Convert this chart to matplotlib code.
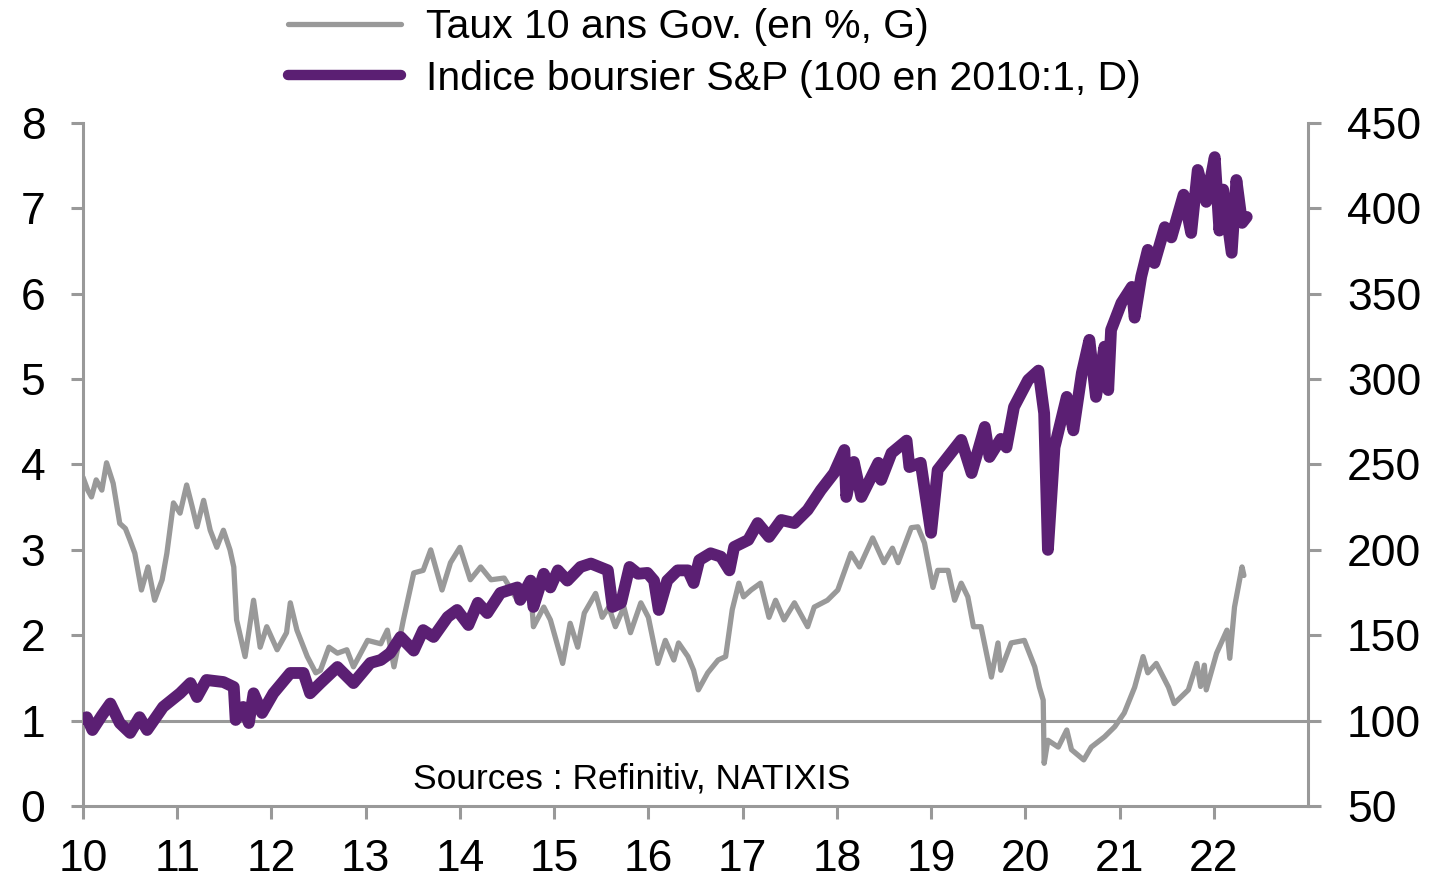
import matplotlib
matplotlib.use("Agg")
import matplotlib.pyplot as plt
from matplotlib.lines import Line2D

plt.rcParams['font.family'] = ['Liberation Sans', 'DejaVu Sans']

# Taux 10 ans Gov. (en %), axe gauche
taux_t = [2010.00, 2010.05, 2010.09, 2010.14, 2010.20, 2010.25, 2010.32, 2010.39, 2010.45, 2010.50,
          2010.55, 2010.62, 2010.69, 2010.76, 2010.84, 2010.89, 2010.96, 2011.03, 2011.10, 2011.16,
          2011.21, 2011.28, 2011.35, 2011.42, 2011.49, 2011.56, 2011.60, 2011.63, 2011.72, 2011.81,
          2011.88, 2011.95, 2012.06, 2012.16, 2012.20, 2012.27, 2012.38, 2012.47, 2012.52, 2012.61,
          2012.70, 2012.80, 2012.87, 2013.02, 2013.16, 2013.23, 2013.30, 2013.40, 2013.51, 2013.61,
          2013.69, 2013.81, 2013.90, 2014.00, 2014.11, 2014.22, 2014.33, 2014.47, 2014.61, 2014.75,
          2014.78, 2014.89, 2014.96, 2015.09, 2015.17, 2015.25, 2015.32, 2015.44, 2015.51, 2015.58,
          2015.65, 2015.74, 2015.81, 2015.92, 2016.00, 2016.10, 2016.18, 2016.27, 2016.32, 2016.42,
          2016.48, 2016.53, 2016.63, 2016.74, 2016.82, 2016.89, 2016.96, 2017.01, 2017.09, 2017.19,
          2017.28, 2017.35, 2017.44, 2017.55, 2017.69, 2017.76, 2017.90, 2018.01, 2018.15, 2018.24,
          2018.38, 2018.50, 2018.59, 2018.65, 2018.79, 2018.86, 2018.93,
          2019.02, 2019.07, 2019.18, 2019.25, 2019.32, 2019.39, 2019.45, 2019.53, 2019.64, 2019.71,
          2019.74, 2019.85, 2019.99, 2020.10, 2020.15, 2020.19, 2020.20, 2020.24, 2020.35, 2020.44,
          2020.49, 2020.62, 2020.70, 2020.84, 2020.95, 2021.05, 2021.16, 2021.25, 2021.30, 2021.39,
          2021.52, 2021.58, 2021.73, 2021.82, 2021.86, 2021.90, 2021.92, 2022.03, 2022.14, 2022.17,
          2022.22, 2022.30, 2022.32]
taux_v = [3.85, 3.70, 3.62, 3.82, 3.70, 4.02, 3.78, 3.31, 3.25, 3.11,
          2.96, 2.53, 2.80, 2.41, 2.65, 2.96, 3.55, 3.43, 3.76, 3.50,
          3.27, 3.58, 3.23, 3.03, 3.23, 3.00, 2.80, 2.18, 1.75, 2.41,
          1.86, 2.10, 1.83, 2.03, 2.38, 2.06, 1.75, 1.56, 1.59, 1.86,
          1.79, 1.83, 1.63, 1.94, 1.90, 2.06, 1.63, 2.18, 2.73, 2.76,
          3.00, 2.53, 2.85, 3.03, 2.65, 2.80, 2.65, 2.67, 2.41, 2.56,
          2.10, 2.33, 2.18, 1.67, 2.14, 1.86, 2.26, 2.49, 2.21, 2.33,
          2.10, 2.33, 2.03, 2.38, 2.21, 1.67, 1.94, 1.71, 1.91, 1.75,
          1.59, 1.36, 1.56, 1.71, 1.75, 2.30, 2.61, 2.45, 2.53, 2.61,
          2.21, 2.41, 2.18, 2.38, 2.10, 2.33, 2.41, 2.53, 2.96, 2.80,
          3.14, 2.85, 3.02, 2.85, 3.26, 3.27, 3.08,
          2.56, 2.76, 2.76, 2.41, 2.61, 2.45, 2.10, 2.10, 1.51, 1.91,
          1.59, 1.91, 1.94, 1.63, 1.39, 1.24, 0.50, 0.77, 0.69, 0.89,
          0.66, 0.54, 0.69, 0.81, 0.93, 1.09, 1.39, 1.75, 1.56, 1.67,
          1.39, 1.20, 1.36, 1.67, 1.40, 1.65, 1.36, 1.79, 2.06, 1.73,
          2.33, 2.80, 2.70]

# Indice boursier S&P (100 en 2010:1), axe droit
spx_t = [2010.00, 2010.04, 2010.10, 2010.20, 2010.29, 2010.39, 2010.50, 2010.60, 2010.68, 2010.85,
         2011.03, 2011.14, 2011.21, 2011.31, 2011.49, 2011.60, 2011.62, 2011.70, 2011.76, 2011.81,
         2011.90, 2012.02, 2012.20, 2012.34, 2012.41, 2012.52, 2012.70, 2012.87, 2013.05, 2013.16,
         2013.26, 2013.37, 2013.51, 2013.61, 2013.72, 2013.87, 2013.97, 2014.09, 2014.19, 2014.29,
         2014.43, 2014.61, 2014.64, 2014.75, 2014.78, 2014.89, 2014.96, 2015.04, 2015.14, 2015.28,
         2015.39, 2015.57, 2015.62, 2015.71, 2015.80, 2015.89, 2015.99, 2016.06, 2016.11, 2016.20,
         2016.31, 2016.42, 2016.48, 2016.54, 2016.66, 2016.77, 2016.86, 2016.91, 2017.06, 2017.16,
         2017.28, 2017.41, 2017.55, 2017.69, 2017.83, 2017.97, 2018.08,
         2018.10, 2018.18, 2018.26, 2018.44, 2018.47, 2018.58, 2018.74, 2018.77, 2018.89, 2019.00,
         2019.07, 2019.32, 2019.43, 2019.57, 2019.62, 2019.74, 2019.80, 2019.88, 2020.03, 2020.14,
         2020.20, 2020.24, 2020.31, 2020.44, 2020.51, 2020.60, 2020.68, 2020.75, 2020.84, 2020.88,
         2020.91, 2021.02, 2021.13, 2021.16, 2021.23, 2021.30, 2021.37, 2021.48, 2021.55, 2021.68,
         2021.76, 2021.83, 2021.92, 2022.01, 2022.06, 2022.10, 2022.19, 2022.24, 2022.30, 2022.35]
spx_v = [101, 102, 94.5, 103, 110, 98.6, 92.8, 102, 94.5, 108,
         116, 122, 113.8, 123.8, 122.6, 119.7, 100.4, 108, 98.6, 116,
         104.5, 116, 127.9, 127.9, 116, 122, 131.4, 122, 133.8, 135.5,
         139.6, 149, 141, 153, 149, 160.7, 164.8, 156, 169, 163,
         174.8, 178, 170.7, 182, 166.6, 186, 178, 188, 182, 190,
         192, 188, 166.6, 169, 190, 186, 186.5, 182, 164.8, 182,
         188, 188, 180.6, 194, 198, 196, 188, 201.7, 205.8, 215.7,
         207.6, 217.5, 215.7, 223.4, 235, 245, 258.5,
         231, 251.5, 231, 251, 241, 256.7, 264, 248.5, 251, 210,
         246.8, 264.4, 245, 272, 254.4, 265, 260, 283.7, 299.5, 305,
         280, 200, 260, 289.6, 270, 303.6, 323, 289.6, 319, 293.6,
         328.8, 344.6, 354, 336, 360, 375.7, 368, 389, 383, 408,
         385.6, 422.5, 403.8, 430, 387, 411, 374, 416.6, 391.5, 395]

years = list(range(2010, 2023))
year_labels = [str(y - 2000) for y in years]

gray = '#999999'
purple = '#5B1F73'

fig = plt.figure(figsize=(14.37, 8.8), dpi=100)
ax = fig.add_axes([83 / 1437, 1 - 806 / 880, (1308 - 83) / 1437, (806 - 123) / 880])
ax2 = ax.twinx()

ax.plot(taux_t, taux_v, color=gray, lw=3.8, solid_joinstyle='round', solid_capstyle='round')
ax.axhline(1, color=gray, lw=2.2, zorder=1)
ax2.plot(spx_t, spx_v, color=purple, lw=8.5, solid_joinstyle='round', solid_capstyle='round')

ax.set_xlim(2010, 2023)
ax.set_ylim(0, 8)
ax2.set_ylim(50, 450)
ax.set_yticks(range(0, 9))
ax2.set_yticks(range(50, 451, 50))
ax.set_xticks(years)
ax.set_xticklabels(year_labels)

for a in (ax, ax2):
    for s in a.spines.values():
        s.set_color(gray)
        s.set_linewidth(2.2)
    a.spines['top'].set_visible(False)
ax.spines['right'].set_visible(False)
ax2.spines['left'].set_visible(False)
ax2.spines['bottom'].set_visible(False)

ax.tick_params(axis='y', length=9, width=2.2, color=gray, labelsize=32, pad=18)
ax.tick_params(axis='x', length=9, width=2.2, color=gray, labelsize=32, pad=15)
ax2.tick_params(axis='y', length=9, width=2.2, color=gray, labelsize=32, pad=19)

ax.text(0.448, 0.04, 'Sources : Refinitiv, NATIXIS', transform=ax.transAxes,
        ha='center', va='center', fontsize=25.5)

# legend handles drawn a bit thinner than the plotted lines, like the original
h1 = Line2D([], [], color=gray, lw=3.8, solid_capstyle='round')
h2 = Line2D([], [], color=purple, lw=7.5, solid_capstyle='round')
fig.legend(handles=[h1, h2],
           labels=['Taux 10 ans Gov. (en %, G)', 'Indice boursier S&P (100 en 2010:1, D)'],
           loc='upper left', bbox_to_anchor=(288 / 1437, 1 - 8 / 880),
           frameon=False, fontsize=29.5, handlelength=2.75, handletextpad=0.62,
           borderpad=0, borderaxespad=0, labelspacing=0.33)

fig.savefig('out.png', dpi=100)
